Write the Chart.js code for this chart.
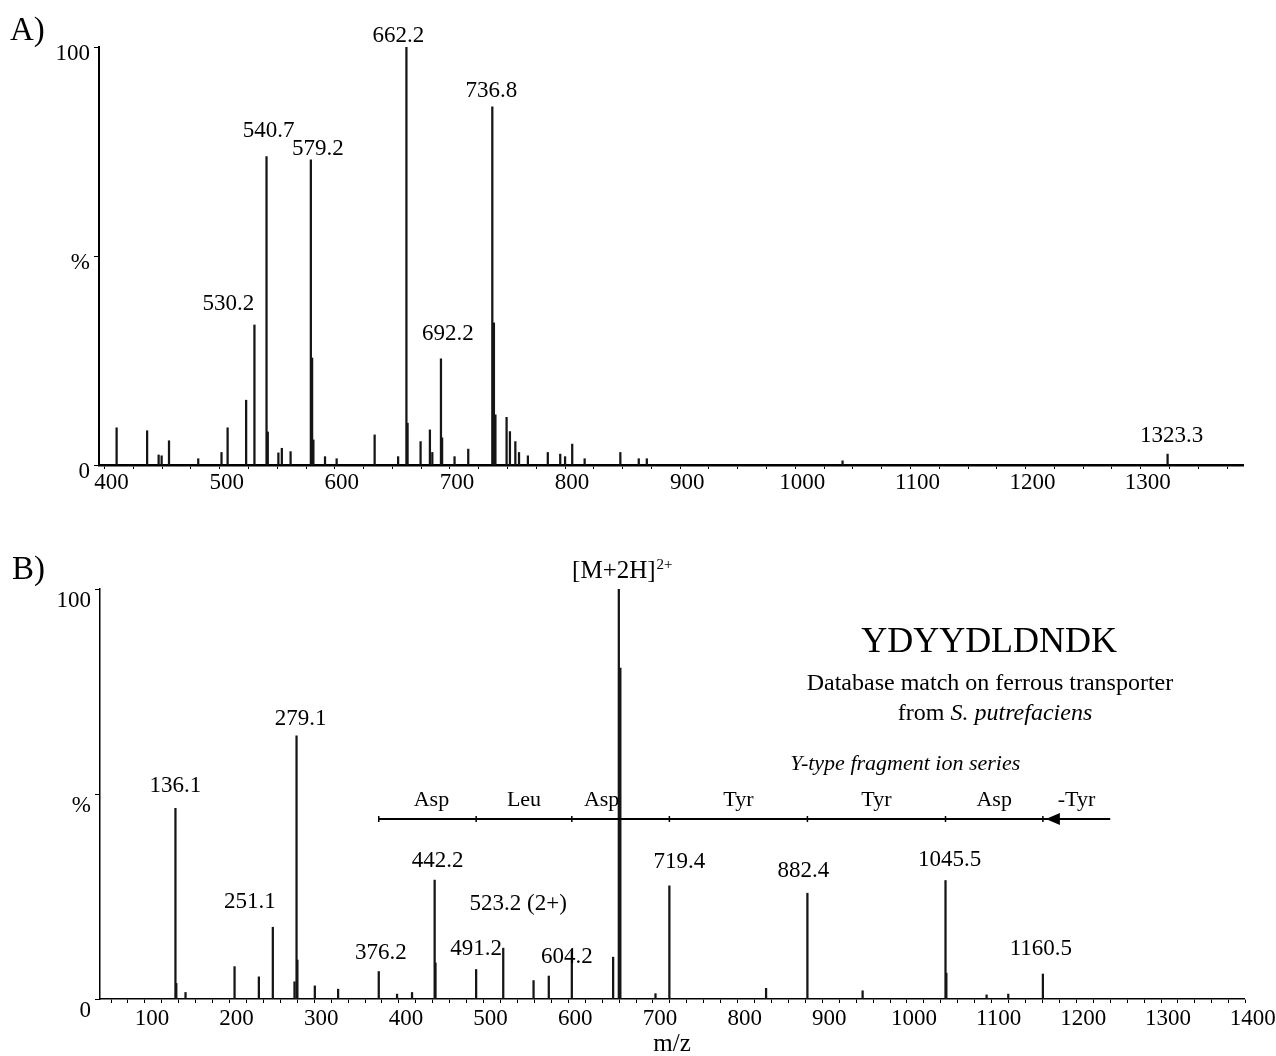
<!DOCTYPE html>
<html>
<head>
<meta charset="utf-8">
<title>MS survey scan and MS/MS of YDYYDLDNDK</title>
<script src="https://cdn.jsdelivr.net/npm/chart.js@4.4.1/dist/chart.umd.min.js"></script>
<style>
  body { margin: 0; background: #fff; }
  canvas { position: absolute; left: 0; }
  #chartA { top: 0; }
  #chartB { top: 520px; }
</style>
</head>
<body>
<canvas id="chartA" width="1276" height="520"></canvas>
<canvas id="chartB" width="1276" height="536"></canvas>
<script>
const SERIF = "'Liberation Serif', 'Times New Roman', serif";

// A) survey scan: peak m/z and relative intensity (%)
const mzA = [410.5, 437.0, 447.0, 449.6, 456.0, 481.4, 501.6, 506.9, 523.0, 530.2,
             540.7, 541.8, 551.0, 554.0, 561.6, 579.2, 580.3, 581.4, 591.5, 601.6,
             634.6, 655.0, 662.2, 663.2, 674.5, 682.6, 684.7, 692.2, 693.2, 704.0,
             715.9, 736.8, 738.2, 739.5, 749.2, 752.1, 756.8, 760.0, 767.7, 785.0,
             795.8, 800.0, 806.2, 817.0, 848.0, 864.0, 871.0, 1041.0, 1323.3];
const intA = [8.9, 8.2, 2.4, 2.2, 5.8, 1.5, 3.0, 8.9, 15.5, 33.5,
              73.8, 7.9, 2.9, 4.0, 3.2, 73.0, 25.6, 6.0, 2.0, 1.5,
              7.2, 2.0, 100, 10.0, 5.6, 8.4, 3.0, 25.4, 6.5, 2.0,
              3.8, 85.7, 34.0, 12.0, 11.4, 8.0, 5.6, 3.0, 2.2, 3.0,
              2.6, 2.0, 5.0, 1.5, 3.0, 1.5, 1.5, 1.0, 2.6];
const labelMzA = [530.2, 540.7, 579.2, 662.2, 692.2, 736.8, 1323.3];
const xLabelsA = [400, 500, 600, 700, 800, 900, 1000, 1100, 1200, 1300];

// B) MS/MS of [M+2H]2+
const mzB = [136.1, 137.1, 148.0, 205.9, 234.6, 251.1, 276.7, 279.1, 280.1, 300.7,
             328.2, 376.2, 397.8, 415.5, 442.2, 443.2, 491.2, 523.2, 559.0, 577.0,
             604.2, 653.0, 659.7, 661.5, 703.0, 719.4, 833.6, 882.4, 947.6, 1045.5,
             1046.5, 1094.0, 1119.6, 1160.5];
const intB = [46.5, 3.8, 1.6, 7.9, 5.4, 17.5, 4.2, 64.2, 9.5, 3.2,
              2.4, 6.7, 1.2, 1.6, 29.0, 8.8, 7.2, 12.4, 4.5, 5.6,
              11.5, 10.2, 100, 80.7, 1.3, 27.6, 2.6, 25.8, 2.0, 28.9,
              6.3, 1.0, 1.2, 6.1];
const labelMzB = [136.1, 251.1, 279.1, 376.2, 442.2, 491.2, 523.2, 604.2, 719.4, 882.4, 1045.5, 1160.5];
const labelTextB = ['136.1', '251.1', '279.1', '376.2', '442.2', '491.2', '523.2 (2+)', '604.2',
                    '719.4', '882.4', '1045.5', '1160.5'];
const precursorMz = 659.7;
const yIonMz = [376.2, 491.2, 604.2, 719.4, 882.4, 1045.5, 1160.5];
const residues = ['Asp', 'Leu', 'Asp', 'Tyr', 'Tyr', 'Asp', '-Tyr'];
const xLabelsB = [100, 200, 300, 400, 500, 600, 700, 800, 900, 1000, 1100, 1200, 1300, 1400];

const yTickText = { 0: '0', 50: '%', 100: '100' };

// label placement in px: [dx from peak, gap above peak top]
const labelNudgeA = [[-26, 15], [2, 20], [7, 5], [-8, 5], [7, 19], [-1, 10], [4, 12]];
const labelNudgeB = [[0, 16], [-23, 19], [4, 11], [2, 13], [3, 13], [0, 14], [15, 38], [-5, -11],
                     [10, 18], [-4, 16], [4, 15], [-2, 19]];
const residueNudge = [4, 0, -19, 0, 0, 0, 0];
// ladder / text block placement in data units (m/z, %)
const ladder = { level: 43.9, end: 1240, textLevel: 47.1 };
const textBlock = { seqX: 1097, seqY: 84.6, db1Y: 75.4, db2X: 1104, db2Y: 68.0, seriesX: 998, seriesY: 55.9 };

function steps(from, to, step) {
  const out = [];
  for (let v = from; v <= to; v += step) out.push(v);
  return out;
}

function drawPeakLabels(ctx, xs, ys, mz, inten, labelMz, labelText, nudge) {
  ctx.font = `23px ${SERIF}`;
  ctx.textAlign = 'center';
  ctx.textBaseline = 'alphabetic';
  labelMz.forEach((m, i) => {
    const top = ys.getPixelForValue(inten[mz.indexOf(m)]);
    ctx.fillText(labelText[i], xs.getPixelForValue(m) + nudge[i][0], top - nudge[i][1]);
  });
}

function spectrum(canvasId, mz, inten, o) {
  return new Chart(document.getElementById(canvasId), {
    type: 'bar',
    data: {
      datasets: [{
        data: mz.map((m, i) => ({ x: m, y: inten[i] })),
        backgroundColor: '#151515',
        barThickness: 1.6,
      }],
    },
    options: {
      responsive: false,
      animation: false,
      devicePixelRatio: 1,
      layout: { padding: o.padding },
      plugins: { legend: { display: false }, tooltip: { enabled: false } },
      scales: {
        x: {
          type: 'linear',
          min: o.xMin,
          max: o.xMax,
          offset: false,
          afterBuildTicks: s => { s.ticks = o.xMinor.map(v => ({ value: v })); },
          afterFit: s => { s.height = o.xHeight; },
          border: { color: '#000', width: o.baseWidth },
          grid: { drawOnChartArea: false, offset: false, tickLength: 4, color: '#000' },
          ticks: {
            autoSkip: false,
            maxRotation: 0,
            padding: o.xPad,
            labelOffset: 7,
            color: '#000',
            font: { family: SERIF, size: 23 },
            callback: v => (o.xLabels.includes(v) ? String(v) : ''),
          },
          title: o.xTitle
            ? { display: true, text: o.xTitle, color: '#000', font: { family: SERIF, size: 25 }, padding: { top: 0, bottom: -3 } }
            : { display: false },
        },
        y: {
          min: 0,
          max: 100,
          afterBuildTicks: s => { s.ticks = [0, 50, 100].map(v => ({ value: v })); },
          afterFit: s => { s.width = o.yWidth; },
          border: { color: '#000', width: o.axisWidth },
          grid: { drawOnChartArea: false, tickLength: 5, color: '#000' },
          ticks: {
            padding: 4,
            labelOffset: o.yLabelOffset,
            color: '#000',
            font: { family: SERIF, size: 23 },
            callback: v => yTickText[v],
          },
        },
      },
    },
    plugins: [{
      id: 'overlay',
      afterDatasetsDraw(chart) {
        const ctx = chart.ctx;
        ctx.save();
        ctx.fillStyle = '#000';
        ctx.strokeStyle = '#000';
        o.draw(ctx, chart.scales.x, chart.scales.y);
        ctx.restore();
      },
    }],
  });
}

spectrum('chartA', mzA, intA, {
  padding: { left: 0, right: 33, top: 47, bottom: 0 },
  xMin: 395.2, xMax: 1388.8, xMinor: steps(400, 1375, 25), xLabels: xLabelsA,
  xHeight: 55, xPad: 0, baseWidth: 2.5, axisWidth: 2, yWidth: 99, yLabelOffset: 7,
  draw(ctx, xs, ys) {
    drawPeakLabels(ctx, xs, ys, mzA, intA, labelMzA, labelMzA.map(v => v.toFixed(1)), labelNudgeA);
    ctx.font = `33px ${SERIF}`;
    ctx.textAlign = 'left';
    ctx.fillText('A)', 10, 40);
  },
});

spectrum('chartB', mzB, intB, {
  padding: { left: 0, right: 32, top: 69, bottom: 0 },
  xMin: 47, xMax: 1398, xMinor: steps(60, 1400, 20), xLabels: xLabelsB,
  xHeight: 57, xPad: 2, baseWidth: 1.5, axisWidth: 1.5, yWidth: 100, yLabelOffset: 12, xTitle: 'm/z',
  draw(ctx, xs, ys) {
    drawPeakLabels(ctx, xs, ys, mzB, intB, labelMzB, labelTextB, labelNudgeB);

    // precursor label with superscript charge
    const px = xs.getPixelForValue(precursorMz);
    const base = ys.getPixelForValue(100) - 11;
    ctx.font = `25px ${SERIF}`;
    const w1 = ctx.measureText('[M+2H]').width;
    ctx.font = `15px ${SERIF}`;
    const w2 = ctx.measureText('2+').width;
    const left = px + 3 - (w1 + w2) / 2;
    ctx.textAlign = 'left';
    ctx.font = `25px ${SERIF}`;
    ctx.fillText('[M+2H]', left, base);
    ctx.font = `15px ${SERIF}`;
    ctx.fillText('2+', left + w1 + 1, base - 9);

    // y-ion ladder
    const ly = ys.getPixelForValue(ladder.level);
    ctx.lineWidth = 2;
    ctx.beginPath();
    ctx.moveTo(xs.getPixelForValue(yIonMz[0]), ly);
    ctx.lineTo(xs.getPixelForValue(ladder.end), ly);
    ctx.stroke();
    ctx.lineWidth = 1.5;
    yIonMz.forEach(m => {
      const tx = xs.getPixelForValue(m);
      ctx.beginPath();
      ctx.moveTo(tx, ly - 3);
      ctx.lineTo(tx, ly + 3);
      ctx.stroke();
    });
    const tip = xs.getPixelForValue(yIonMz[yIonMz.length - 1]) + 3;
    ctx.beginPath();
    ctx.moveTo(tip, ly);
    ctx.lineTo(tip + 14, ly - 6);
    ctx.lineTo(tip + 14, ly + 6);
    ctx.closePath();
    ctx.fill();

    ctx.font = `22px ${SERIF}`;
    ctx.textAlign = 'center';
    const ty = ys.getPixelForValue(ladder.textLevel);
    residues.forEach((r, i) => {
      const a = yIonMz[i];
      const b = i + 1 < yIonMz.length ? yIonMz[i + 1] : ladder.end;
      ctx.fillText(r, xs.getPixelForValue((a + b) / 2) + residueNudge[i], ty);
    });

    // peptide match text
    ctx.font = `36px ${SERIF}`;
    ctx.fillText('YDYYDLDNDK', xs.getPixelForValue(textBlock.seqX), ys.getPixelForValue(textBlock.seqY));
    ctx.font = `24px ${SERIF}`;
    ctx.fillText('Database match on ferrous transporter', xs.getPixelForValue(textBlock.seqX + 1), ys.getPixelForValue(textBlock.db1Y));
    const fromTxt = 'from ';
    const spTxt = 'S. putrefaciens';
    const wf = ctx.measureText(fromTxt).width;
    ctx.font = `italic 24px ${SERIF}`;
    const ws = ctx.measureText(spTxt).width;
    const l2 = xs.getPixelForValue(textBlock.db2X) - (wf + ws) / 2;
    ctx.textAlign = 'left';
    ctx.font = `24px ${SERIF}`;
    ctx.fillText(fromTxt, l2, ys.getPixelForValue(textBlock.db2Y));
    ctx.font = `italic 24px ${SERIF}`;
    ctx.fillText(spTxt, l2 + wf, ys.getPixelForValue(textBlock.db2Y));
    ctx.textAlign = 'center';
    ctx.font = `italic 22px ${SERIF}`;
    ctx.fillText('Y-type fragment ion series', xs.getPixelForValue(textBlock.seriesX), ys.getPixelForValue(textBlock.seriesY));

    ctx.font = `33px ${SERIF}`;
    ctx.textAlign = 'left';
    ctx.fillText('B)', 12, 59);
  },
});
</script>
</body>
</html>
